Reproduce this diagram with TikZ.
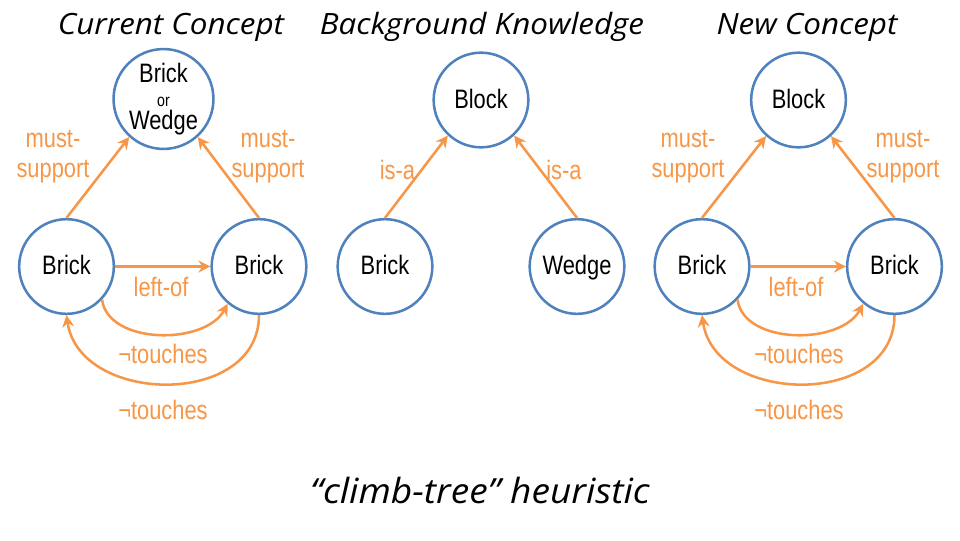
\documentclass[tikz,border=0pt]{standalone}
\usepackage{fontspec}
\setmainfont{Liberation Sans}
\newfontfamily\nodefont{Liberation Sans}[FakeStretch=0.82]
\newfontfamily\handfont{Open Sans}[FakeStretch=1.07]
\usetikzlibrary{arrows.meta}
\definecolor{cblue}{HTML}{4F81BD}
\definecolor{corange}{HTML}{F79646}
\begin{document}
\begin{tikzpicture}[x=0.75pt,y=-0.75pt,
  concept/.style={circle,draw=cblue,line width=1.9pt,minimum size=71pt,inner sep=0pt,
    font=\nodefont\fontsize{20}{19.5}\selectfont,text=black,align=center},
  single/.style={concept,text height=15pt,text depth=2.5pt},
  rel/.style={draw=corange,line width=1.9pt,-{Stealth[length=9pt,width=9pt,inset=3pt]}},
  lbl/.style={text=corange,font=\nodefont\fontsize{20}{22.5}\selectfont,align=center,inner sep=0pt},
  title/.style={font=\handfont\itshape\fontsize{22}{24}\selectfont,text=black,inner sep=0pt},
  captionstyle/.style={font=\handfont\itshape\fontsize{26}{28}\selectfont,text=black,inner sep=0pt}]
\useasboundingbox (0,0) rectangle (960,540);

% titles
\node[title] (t1) at (171,27) {Current Concept};
\node[title] (t2) at (482,27) {Background Knowledge};
\node[title] (t3) at (807,27) {New Concept};
\node[captionstyle] (cap) at (480,490) {“climb-tree” heuristic};

% left panel
\node[concept] (lt) at (163.5,99) {Brick\\[-1pt]{\fontsize{13}{13}\selectfont or}\\[-2.5pt]Wedge};
\node[single] (llb) at (66.5,266.5) {Brick};
\node[single] (lrb) at (259,266.5) {Brick};
\draw[rel] (llb.north) -- (lt.228);
\draw[rel] (lrb.north) -- (lt.312);
\draw[rel] (llb.east) -- (lrb.west);
\draw[rel] (llb.-43) .. controls +(6,45) and +(-23,42) .. (lrb.230);
\draw[rel] (lrb.south) .. controls +(0,93) and +(13,90) .. (llb.south);
\node[lbl] (l1) at (53,157) {must-\\support};
\node[lbl] (l2) at (268,157) {must-\\support};
\node[lbl] (l3) at (161,287) {left-of};
\node[lbl] (l4) at (163,354) {¬touches};
\node[lbl] (l5) at (163,410) {¬touches};

% middle panel
\node[single] (mt) at (481,100) {Block};
\node[single] (mb) at (385,266.5) {Brick};
\node[single] (mw) at (577,266.5) {Wedge};
\draw[rel] (mb.north) -- (mt.227);
\draw[rel] (mw.north) -- (mt.313);
\node[lbl] (m1) at (397.5,170) {is-a};
\node[lbl] (m2) at (564,170) {is-a};

% right panel
\node[single] (rt) at (798.5,100) {Block};
\node[single] (rlb) at (702,266.5) {Brick};
\node[single] (rrb) at (894.5,266.5) {Brick};
\draw[rel] (rlb.north) -- (rt.228);
\draw[rel] (rrb.north) -- (rt.312);
\draw[rel] (rlb.east) -- (rrb.west);
\draw[rel] (rlb.-43) .. controls +(6,45) and +(-23,42) .. (rrb.230);
\draw[rel] (rrb.south) .. controls +(0,93) and +(13,90) .. (rlb.south);
\node[lbl] (r1) at (688,157) {must-\\support};
\node[lbl] (r2) at (903,157) {must-\\support};
\node[lbl] (r3) at (796,287) {left-of};
\node[lbl] (r4) at (799,354) {¬touches};
\node[lbl] (r5) at (799,410) {¬touches};
\end{tikzpicture}
\end{document}
